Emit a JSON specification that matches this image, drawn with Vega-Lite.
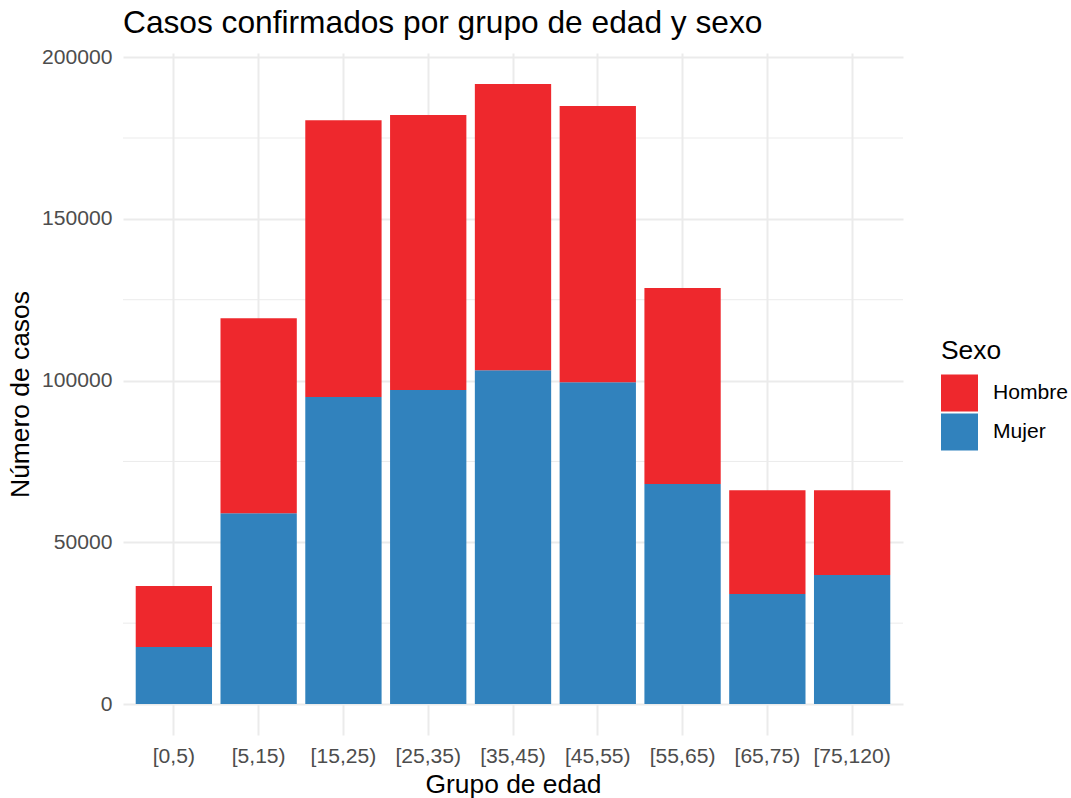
{
  "$schema": "https://vega.github.io/schema/vega-lite/v6.json",
  "width": 780,
  "height": 682,
  "autosize": {"type": "none"},
  "padding": {"left": 123, "top": 53, "right": 168, "bottom": 63},
  "background": "white",
  "title": {
    "text": "Casos confirmados por grupo de edad y sexo",
    "anchor": "start",
    "frame": "group",
    "font": "Liberation Sans",
    "fontSize": 31.7,
    "fontWeight": "normal",
    "color": "black",
    "offset": 6
  },
  "config": {
    "view": {"stroke": null},
    "font": "Liberation Sans",
    "axisY": {
      "labelFontSize": 21.1,
      "labelColor": "#4D4D4D",
      "labelPadding": 11,
      "ticks": false,
      "domain": false,
      "grid": true,
      "gridColor": "#EBEBEB",
      "gridWidth": 2,
      "titleFontSize": 26.4,
      "titleFontWeight": "normal",
      "titleColor": "black",
      "titlePadding": 7
    }
  },
  "datasets": {
    "casos": [
      {"grupo": "[0,5)", "sexo": "Mujer", "casos": 17600},
      {"grupo": "[0,5)", "sexo": "Hombre", "casos": 18900},
      {"grupo": "[5,15)", "sexo": "Mujer", "casos": 59000},
      {"grupo": "[5,15)", "sexo": "Hombre", "casos": 60300},
      {"grupo": "[15,25)", "sexo": "Mujer", "casos": 94900},
      {"grupo": "[15,25)", "sexo": "Hombre", "casos": 85600},
      {"grupo": "[25,35)", "sexo": "Mujer", "casos": 97100},
      {"grupo": "[25,35)", "sexo": "Hombre", "casos": 85000},
      {"grupo": "[35,45)", "sexo": "Mujer", "casos": 103200},
      {"grupo": "[35,45)", "sexo": "Hombre", "casos": 88500},
      {"grupo": "[45,55)", "sexo": "Mujer", "casos": 99500},
      {"grupo": "[45,55)", "sexo": "Hombre", "casos": 85400},
      {"grupo": "[55,65)", "sexo": "Mujer", "casos": 68000},
      {"grupo": "[55,65)", "sexo": "Hombre", "casos": 60600},
      {"grupo": "[65,75)", "sexo": "Mujer", "casos": 34000},
      {"grupo": "[65,75)", "sexo": "Hombre", "casos": 32100},
      {"grupo": "[75,120)", "sexo": "Mujer", "casos": 39900},
      {"grupo": "[75,120)", "sexo": "Hombre", "casos": 26200}
    ],
    "minor": [
      {"v": 25000}, {"v": 75000}, {"v": 125000}, {"v": 175000}
    ]
  },
  "layer": [
    {
      "data": {"name": "minor"},
      "mark": {"type": "rule", "color": "#EBEBEB", "strokeWidth": 1},
      "encoding": {
        "y": {
          "field": "v",
          "type": "quantitative",
          "scale": {"domain": [-9585, 201285], "nice": false, "zero": false},
          "title": "Número de casos",
          "axis": {"values": [0, 50000, 100000, 150000, 200000], "format": "d"}
        }
      }
    },
    {
      "data": {"name": "casos"},
      "mark": {"type": "bar"},
      "encoding": {
        "x": {
          "field": "grupo",
          "type": "nominal",
          "sort": ["[0,5)", "[5,15)", "[15,25)", "[25,35)", "[35,45)", "[45,55)", "[55,65)", "[65,75)", "[75,120)"],
          "scale": {"paddingInner": 0.1, "paddingOuter": 0.15},
          "title": "Grupo de edad",
          "axis": {
            "labelAngle": 0,
            "labelFontSize": 21.1,
            "labelColor": "#4D4D4D",
            "labelPadding": 10,
            "ticks": false,
            "domain": false,
            "grid": true,
            "gridColor": "#EBEBEB",
            "gridWidth": 2,
            "titleFontSize": 26.4,
            "titleFontWeight": "normal",
            "titleColor": "black",
            "titlePadding": 5
          }
        },
        "y": {
          "field": "casos",
          "type": "quantitative",
          "aggregate": "sum",
          "stack": "zero",
          "scale": {"domain": [-9585, 201285], "nice": false, "zero": false},
          "title": "Número de casos",
          "axis": {"values": [0, 50000, 100000, 150000, 200000], "format": "d"}
        },
        "color": {
          "field": "sexo",
          "type": "nominal",
          "scale": {"domain": ["Hombre", "Mujer"], "range": ["#EE282D", "#3182BD"]},
          "title": "Sexo",
          "legend": {
            "orient": "none",
            "legendX": 818,
            "legendY": 285,
            "symbolType": "square",
            "symbolSize": 1369,
            "symbolStrokeWidth": 0,
            "symbolOpacity": 1,
            "titleFontSize": 26.4,
            "titleFontWeight": "normal",
            "titleColor": "black",
            "titlePadding": 10,
            "labelFontSize": 21.1,
            "labelColor": "black",
            "labelOffset": 15,
            "rowPadding": 2
          }
        },
        "order": {"field": "sexo", "sort": "descending"}
      }
    }
  ]
}
